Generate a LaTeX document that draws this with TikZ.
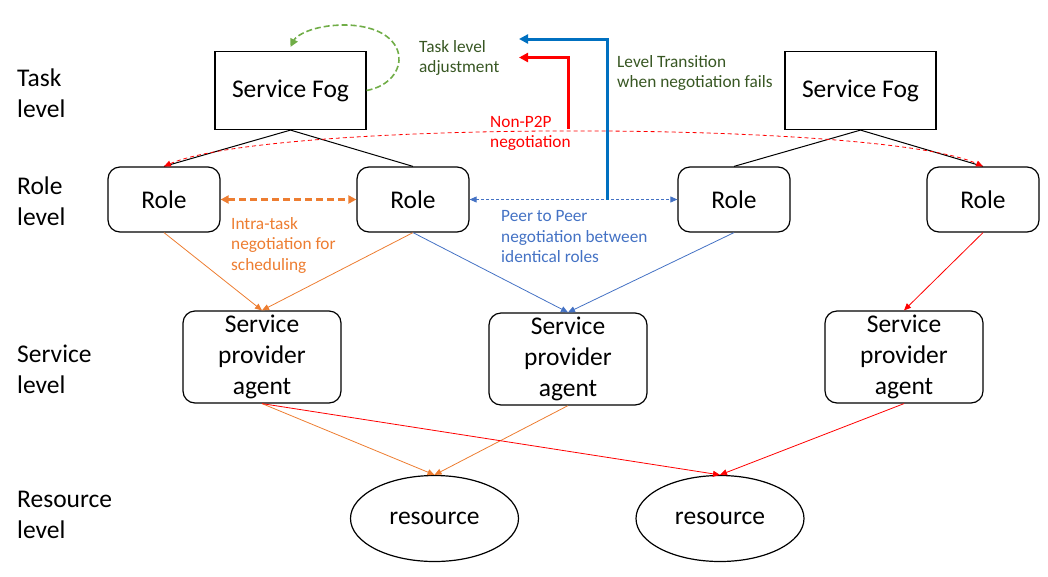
\documentclass[tikz,border=0pt]{standalone}
\usepackage{fontspec}
\setmainfont{Carlito}
\usetikzlibrary{arrows.meta,shapes.geometric,calc}

\begin{document}
\begin{tikzpicture}[x=1pt,y=1pt,yscale=-1,
  big/.style={font=\fontsize{25.5}{31}\selectfont},
  small/.style={font=\fontsize{17.3}{20.5}\selectfont,align=left,anchor=west,inner sep=0},
  lvl/.style={big,align=left,anchor=west,inner sep=0},
  fogbox/.style={big,draw,line width=1.2pt,minimum width=151,minimum height=78,inner sep=0},
  rolebox/.style={big,draw,line width=1.2pt,rounded corners=12,minimum width=112,minimum height=65,inner sep=0},
  agentbox/.style={big,draw,line width=1.2pt,rounded corners=12,minimum width=158,minimum height=92,inner sep=0,align=center},
  resell/.style={big,draw,ellipse,line width=1.2pt,minimum width=168,minimum height=86,inner sep=0},
  tip/.style={-{Triangle[length=7pt,width=6pt]}},
  orng/.style={color={rgb, 255:red, 237; green, 125; blue, 49}},
  blu/.style={color={rgb, 255:red, 68; green, 114; blue, 196}},
  rd/.style={color={rgb, 255:red, 255; green, 0; blue, 0}},
  darkgrn/.style={color={rgb, 255:red, 56; green, 87; blue, 35}}
  ]
  \useasboundingbox (0,0) rectangle (1048,576);

  %Level labels
  \node[lvl] (tasklvl) at (17,93) {Task\\level};
  \node[lvl] (rolelvl) at (17,201) {Role\\level};
  \node[lvl] (servlvl) at (17,369) {Service\\level};
  \node[lvl] (reslvl) at (17,515) {Resource\\level};

  %Shape: Rectangle
  \node[fogbox] (fog1) at (290.5,90.5) {\raisebox{-2pt}{Service Fog}};
  \node[fogbox] (fog2) at (860.5,90.5) {\raisebox{-2pt}{Service Fog}};
  %Shape: Rounded Rect
  \node[rolebox] (r1) at (164,199.5) {Role};
  \node[rolebox] (r2) at (413,199.5) {Role};
  \node[rolebox] (r3) at (734,199.5) {Role};
  \node[rolebox] (r4) at (983,199.5) {Role};
  \node[agentbox] (spa1) at (262,357) {\raisebox{-3pt}{Service}\\\raisebox{-3pt}{provider}\\\raisebox{-3pt}{agent}};
  \node[agentbox] (spa2) at (568,359) {\raisebox{-3pt}{Service}\\\raisebox{-3pt}{provider}\\\raisebox{-3pt}{agent}};
  \node[agentbox] (spa3) at (904,357) {\raisebox{-3pt}{Service}\\\raisebox{-3pt}{provider}\\\raisebox{-3pt}{agent}};
  %Shape: Ellipse
  \node[resell] (res1) at (434.5,518.5) {resource};
  \node[resell] (res2) at (720,518.5) {resource};

  %Straight Lines
  \draw[line width=1pt] (fog1.south) -- (r1.north);
  \draw[line width=1pt] (fog1.south) -- (r2.north);
  \draw[line width=1pt] (fog2.south) -- (r3.north);
  \draw[line width=1pt] (fog2.south) -- (r4.north);

  %Curve Lines
  \draw[rd,line width=0.8pt,dash pattern=on 4pt off 3pt,{Triangle[length=7pt,width=6pt]}-{Triangle[length=7pt,width=6pt]}]
    (r1.north) .. controls (270,120) and (880,120) .. (r4.north);
  \draw[color={rgb, 255:red, 112; green, 173; blue, 71},line width=1.6pt,dash pattern=on 6pt off 3pt,-{Triangle[length=8pt,width=8pt]}]
    (fog1.east) .. controls (412,82) and (414,26) .. (345,25) .. controls (312,25) and (296,36) .. ($(fog1.north)+(0,-4)$);

  %Dashed double arrows
  \draw[orng,line width=2.3pt,dash pattern=on 7pt off 4pt,{Triangle[length=8pt,width=8pt]}-{Triangle[length=8pt,width=8pt]}]
    (r1.east) -- (r2.west);
  \draw[blu,line width=0.8pt,dash pattern=on 3pt off 2pt,{Triangle[length=7pt,width=6pt]}-{Triangle[length=7pt,width=6pt]}]
    (r2.east) -- (r3.west);

  %Level transition and non-P2P
  \coordinate (trans) at ($(r2.east)!0.665!(r3.west)$);
  \coordinate (transend) at (519,39);
  \draw[color={rgb, 255:red, 0; green, 112; blue, 192},line width=3pt,-{Triangle[length=9pt,width=9pt]}]
    (trans) |- (transend);
  \coordinate (nonp) at (568,129);
  \coordinate (nonpend) at (519,57.5);
  \draw[rd,line width=3pt,-{Triangle[length=9pt,width=9pt]}] (nonp) |- (nonpend);

  %Role to agent
  \draw[orng,line width=0.8pt,tip] (r1.south) -- (spa1.north);
  \draw[orng,line width=0.8pt,tip] (r2.south) -- (spa1.north);
  \draw[blu,line width=0.8pt,tip] (r2.south) -- (spa2.north);
  \draw[blu,line width=0.8pt,tip] (r3.south) -- (spa2.north);
  \draw[rd,line width=0.8pt,tip] (r4.south) -- (spa3.north);

  %Agent to resource
  \draw[orng,line width=0.8pt,tip] (spa1.south) -- (res1.north);
  \draw[orng,line width=0.8pt,tip] (spa2.south) -- (res1.north);
  \draw[rd,line width=0.8pt,tip] (spa1.south) -- (res2.north);
  \draw[rd,line width=0.8pt,tip] (spa3.south) -- (res2.north);

  %Labels
  \node[small,darkgrn] (adjlbl) at (419,58) {Task level\\adjustment};
  \node[small,darkgrn] (translbl) at (617,73) {Level Transition\\when negotiation fails};
  \node[small,rd] (nonplbl) at (490,133.5) {Non-P2P\\negotiation};
  \node[small,orng] (intralbl) at (231,245) {Intra-task\\negotiation for\\scheduling};
  \node[small,blu] (peerlbl) at (501,237) {Peer to Peer\\negotiation between\\identical roles};
\end{tikzpicture}
\end{document}
